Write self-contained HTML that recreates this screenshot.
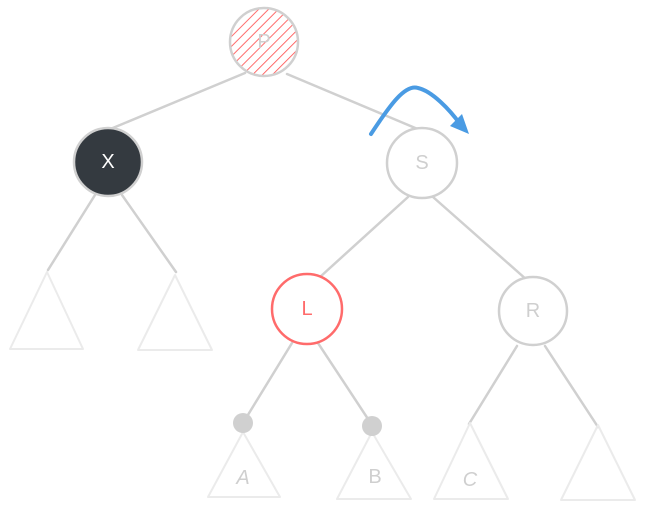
<!DOCTYPE html>
<html><head><style>
html,body{margin:0;padding:0;background:#fff;}
svg{display:block;}
text{font-family:"Liberation Sans",sans-serif;font-size:20px;text-anchor:middle;dominant-baseline:central;}
</style></head><body>
<svg width="645" height="511" viewBox="0 0 645 511">
<defs>
<pattern id="h" width="7" height="7" patternUnits="userSpaceOnUse" patternTransform="rotate(45)">
<line x1="0" y1="0" x2="0" y2="7" stroke="#ff5c5c" stroke-width="1.8"/>
</pattern>
</defs>
<g stroke="#d0d0d0" stroke-width="2.5" fill="none" stroke-linecap="round">
<line x1="245" y1="73" x2="108" y2="130"/>
<line x1="287" y1="74" x2="420" y2="130"/>
<line x1="95" y1="195" x2="48" y2="270"/>
<line x1="122" y1="195" x2="176" y2="272"/>
<line x1="408" y1="197" x2="320" y2="277"/>
<line x1="433" y1="197" x2="527" y2="280"/>
<line x1="292" y1="343" x2="243" y2="423"/>
<line x1="318" y1="343" x2="372" y2="425"/>
<line x1="517" y1="346" x2="469" y2="424"/>
<line x1="545" y1="346" x2="598" y2="427"/>
</g>
<g stroke="#ebebeb" stroke-width="2" fill="none" stroke-linejoin="round">
<polygon points="47,272 10,349 83,349"/>
<polygon points="175,275 138,350 212,350"/>
<polygon points="243,432 208,497 280,497"/>
<polygon points="372,432 337,499 411,499"/>
<polygon points="470,423 434,499 508,499"/>
<polygon points="598,425 561,500 635,500"/>
</g>
<circle cx="243" cy="423" r="10" fill="#d0d0d0"/>
<circle cx="372" cy="426" r="10" fill="#d0d0d0"/>
<circle cx="264" cy="42" r="34" fill="url(#h)" stroke="#d0d0d0" stroke-width="2.5"/>
<circle cx="108" cy="162" r="34" fill="#343a40" stroke="#d0d0d0" stroke-width="2.5"/>
<circle cx="422" cy="163" r="35" fill="#fff" stroke="#d0d0d0" stroke-width="2.5"/>
<circle cx="307" cy="309" r="35" fill="#fff" stroke="#ff6b6b" stroke-width="2.5"/>
<circle cx="533" cy="311" r="34" fill="#fff" stroke="#d0d0d0" stroke-width="2.5"/>
<g fill="#cfcfcf">
<text x="264" y="42">P</text>
<text x="422" y="163">S</text>
<text x="533" y="311">R</text>
<text x="243" y="478" font-style="italic">A</text>
<text x="375" y="477">B</text>
<text x="470" y="480" font-style="italic">C</text>
</g>
<text x="108" y="162" fill="#fff">X</text>
<text x="307" y="309" fill="#ff6b6b">L</text>
<path d="M371,134 C390,105 405,84 418,88 C432,91 450,110 460,124" stroke="#4a9be3" stroke-width="4" fill="none" stroke-linecap="round"/>
<polygon points="469,134 450,126 462,114" fill="#4a9be3"/>
</svg>
</body></html>
